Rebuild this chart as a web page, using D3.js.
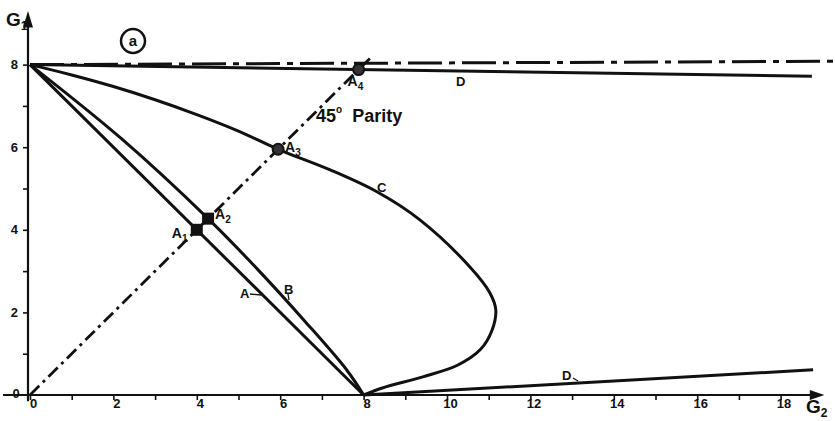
<!DOCTYPE html>
<html>
<head>
<meta charset="utf-8">
<script src="https://cdn.jsdelivr.net/npm/d3@7"></script>
<style>
  body { margin: 0; background: #fff; }
  svg { display: block; }
  text { font-family: "Liberation Sans", Arial, sans-serif; font-weight: bold; fill: #111; }
</style>
</head>
<body>
<svg id="chart" width="835" height="421"></svg>
<script>
// ---- data (G2 on x, G1 on y) ----
const xTickValues = d3.range(0, 19);
const xTickLabels = [0, 2, 4, 6, 8, 10, 12, 14, 16, 18];
const yTickValues = d3.range(0, 9);
const yTickLabels = [0, 2, 4, 6, 8];

const lineA = [[0, 8], [8, 0]];
const lineB = [[0, 8], [2.2, 6.2], [4.27, 4.27], [5.47, 3.03], [6.58, 1.8], [7.6, 0.6], [8, 0]];
const curveC = [[0, 8], [1, 7.75], [2, 7.47], [3, 7.15], [4, 6.79], [5, 6.39], [5.95, 5.95],
  [7.2, 5.45], [8.32, 4.92], [9.35, 4.24], [10.55, 3.1], [11.03, 2.47], [11.17, 2.06],
  [11.08, 1.57], [10.8, 1.1], [10.25, 0.72], [9.42, 0.44], [8.45, 0.17], [8, 0]];
const lineDUpper = [[0, 8], [18.75, 7.72]];
const lineDLower = [[8, 0], [18.78, 0.61]];
const constantG1 = [[0, 8], [19.3, 8.08]];
const parityLine = [[0, 0], [8.15, 8.15]];

const pointNames = ["A1", "A2", "A3", "A4"];
const pointG2 = [4.0, 4.27, 5.95, 7.88];
const pointG1 = [4.0, 4.27, 5.95, 7.88];

// ---- scales ----
const svg = d3.select("#chart");
const x = d3.scaleLinear().domain([0, 18]).range([30, 30 + 41.7 * 18]);
const y = d3.scaleLinear().domain([0, 8]).range([395, 395 - 41.3 * 8]);
const line = d3.line().x(d => x(d[0])).y(d => y(d[1]));
const smooth = d3.line().x(d => x(d[0])).y(d => y(d[1])).curve(d3.curveCatmullRom.alpha(0.5));
const ink = "#111";

// ---- axes ----
const xAxis = d3.axisBottom(x).tickValues(xTickValues).tickSize(5)
  .tickFormat(d => xTickLabels.includes(d) ? d : "");
const gx = svg.append("g").attr("transform", `translate(0,${y(0)})`).call(xAxis);
gx.select(".domain").remove();
gx.selectAll("line").attr("stroke", ink).attr("stroke-width", 1.6);
gx.selectAll("text").attr("font-size", 13).attr("dx", 3).attr("dy", 5).style("font-weight", "bold");

const yAxis = d3.axisLeft(y).tickValues(yTickValues.filter(v => v > 0)).tickSize(5)
  .tickFormat(d => yTickLabels.includes(d) ? d : "");
const gy = svg.append("g").attr("transform", `translate(${x(0) - 2},0)`).call(yAxis);
gy.select(".domain").remove();
gy.selectAll("line").attr("stroke", ink).attr("stroke-width", 1.6);
gy.selectAll("text").attr("font-size", 13).attr("dx", -2).style("font-weight", "bold");
svg.append("text").attr("x", 16).attr("y", y(0)).attr("dy", "0.2em")
  .attr("text-anchor", "middle").attr("font-size", 13).text("0");

// axis lines with arrowheads
svg.append("line").attr("x1", 3).attr("x2", x(18.85)).attr("y1", y(0)).attr("y2", y(0))
  .attr("stroke", ink).attr("stroke-width", 2.2);
svg.append("path")
  .attr("d", `M${x(19.05)},${y(0)} L${x(18.7)},${y(0) - 5} L${x(18.7)},${y(0) + 5} Z`)
  .attr("fill", ink);
svg.append("line").attr("x1", x(0) - 2).attr("x2", x(0) - 2).attr("y1", y(-0.15)).attr("y2", y(9.0))
  .attr("stroke", ink).attr("stroke-width", 2.2);
svg.append("path")
  .attr("d", `M${x(0) - 2},${y(9.3)} L${x(0) - 7},${y(8.9)} L${x(0) + 3},${y(8.9)} Z`)
  .attr("fill", ink);

// axis titles
const g1 = svg.append("text").attr("x", 6).attr("y", 26).attr("font-size", 19);
g1.append("tspan").text("G");
g1.append("tspan").attr("font-size", 12).attr("dy", 4).text("1");
const g2 = svg.append("text").attr("x", 806).attr("y", 413).attr("font-size", 19);
g2.append("tspan").text("G");
g2.append("tspan").attr("font-size", 12).attr("dy", 4).text("2");

// panel tag
svg.append("circle").attr("cx", 133).attr("cy", 41).attr("r", 12)
  .attr("fill", "none").attr("stroke", ink).attr("stroke-width", 2.5);
svg.append("text").attr("x", 133).attr("y", 46).attr("text-anchor", "middle")
  .attr("font-size", 15).text("a");

// ---- curves ----
svg.append("path").datum(constantG1).attr("d", line).attr("fill", "none")
  .attr("stroke", ink).attr("stroke-width", 3).attr("stroke-dasharray", "34,7,6,7");
svg.append("path").datum(parityLine).attr("d", line).attr("fill", "none")
  .attr("stroke", ink).attr("stroke-width", 2.8).attr("stroke-dasharray", "13,5,3,5");
svg.append("path").datum(lineDUpper).attr("d", line).attr("fill", "none")
  .attr("stroke", ink).attr("stroke-width", 3);
svg.append("path").datum(lineDLower).attr("d", line).attr("fill", "none")
  .attr("stroke", ink).attr("stroke-width", 3);
svg.append("path").datum(lineA).attr("d", line).attr("fill", "none")
  .attr("stroke", ink).attr("stroke-width", 3);
svg.append("path").datum(lineB).attr("d", smooth).attr("fill", "none")
  .attr("stroke", ink).attr("stroke-width", 3);
svg.append("path").datum(curveC).attr("d", smooth).attr("fill", "none")
  .attr("stroke", ink).attr("stroke-width", 3);

// ---- marked points ----
pointNames.forEach((name, i) => {
  const px = x(pointG2[i]), py = y(pointG1[i]);
  if (i < 2) {
    svg.append("rect").attr("x", px - 6).attr("y", py - 6).attr("width", 12).attr("height", 12)
      .attr("fill", ink);
  } else {
    svg.append("circle").attr("cx", px).attr("cy", py).attr("r", 5.5)
      .attr("fill", "#333").attr("stroke", ink).attr("stroke-width", 2);
  }
});

function subLabel(px, py, main, sub, size) {
  const t = svg.append("text").attr("x", px).attr("y", py).attr("font-size", size);
  t.append("tspan").text(main);
  t.append("tspan").attr("font-size", size * 0.72).attr("dy", size * 0.3).text(sub);
}
const labelOffsets = [[-25, 8], [7, 0], [7, 3], [-11, 16]];
pointNames.forEach((name, i) => {
  const o = labelOffsets[i];
  subLabel(x(pointG2[i]) + o[0], y(pointG1[i]) + o[1], name[0], name[1], 14);
});

// curve labels
svg.append("text").attr("x", 240).attr("y", 298).attr("font-size", 13).text("A");
svg.append("line").attr("x1", 250).attr("y1", 294).attr("x2", 261).attr("y2", 295)
  .attr("stroke", ink).attr("stroke-width", 1.3);
svg.append("text").attr("x", 284).attr("y", 294).attr("font-size", 13).text("B");
svg.append("line").attr("x1", 288).attr("y1", 294).attr("x2", 289).attr("y2", 300)
  .attr("stroke", ink).attr("stroke-width", 1.3);
svg.append("text").attr("x", 377).attr("y", 192).attr("font-size", 13).text("C");
svg.append("text").attr("x", 456).attr("y", 86).attr("font-size", 13).text("D");
svg.append("text").attr("x", 562).attr("y", 380).attr("font-size", 13).text("D");
svg.append("line").attr("x1", 573).attr("y1", 378).attr("x2", 578).attr("y2", 381)
  .attr("stroke", ink).attr("stroke-width", 1.3);

// parity annotation
const par = svg.append("text").attr("x", 316).attr("y", 122).attr("font-size", 18);
par.append("tspan").text("45");
par.append("tspan").attr("font-size", 10).attr("dy", -9).text("o");
par.append("tspan").attr("dy", 9).attr("dx", 10).text("Parity");
</script>
</body>
</html>
